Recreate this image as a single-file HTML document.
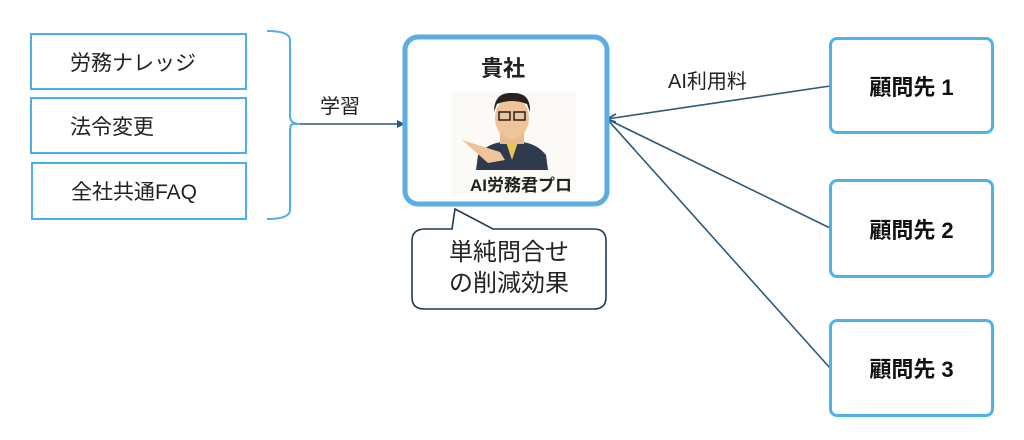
<!DOCTYPE html>
<html><head><meta charset="utf-8"><style>
body{margin:0;width:1024px;height:440px;background:#fff;position:relative;overflow:hidden;font-family:"Liberation Sans","Noto Sans CJK JP",sans-serif;color:#222}
.b{position:absolute;border:2px solid #4eaee8;box-sizing:border-box;font-size:21px;display:flex;align-items:center;padding-left:38px}
.r{position:absolute;border:3.5px solid #4eb1e8;border-radius:8px;box-sizing:border-box;font-size:22px;font-weight:bold;display:flex;align-items:center;justify-content:center;color:#111}
.t{position:absolute;font-size:20px;white-space:nowrap}
</style></head><body>
<div class="b" style="left:30px;top:33px;width:217px;height:57px">労務ナレッジ</div>
<div class="b" style="left:30px;top:97px;width:217px;height:57px">法令変更</div>
<div class="b" style="left:31px;top:162px;width:216px;height:58px">全社共通FAQ</div>
<svg style="position:absolute;left:0;top:0" width="1024" height="440">
<path d="M267 31 Q290 31 290 40 L290 116 Q290 124 300 124 L293 124 Q290 124 290 132 L290 210 Q290 219 267 219" fill="none" stroke="#4eaee8" stroke-width="2"/>
<line x1="300" y1="124" x2="400" y2="124" stroke="#2c5a78" stroke-width="1.6"/>
<path d="M405 124 L397 120 L397 128Z" fill="#2c5a78"/>
<g stroke="#2c5a78" stroke-width="1.6" fill="none">
<line x1="607" y1="119" x2="830" y2="86"/>
<line x1="607" y1="119" x2="830" y2="228"/>
<line x1="607" y1="119" x2="830" y2="368"/>
<path d="M616 114 L607 119 L616 122"/>
</g>
<path d="M425 229 L452 229 L455 209 L493 229 L594 229 Q606 229 606 241 L606 297 Q606 309 594 309 L424 309 Q412 309 412 297 L412 241 Q412 229 425 229Z" fill="#fff" stroke="#1f3b52" stroke-width="1.6"/>
<rect x="405" y="37" width="202" height="167" rx="13" fill="#fff" stroke="#5aaee2" stroke-width="5"/>
<rect x="452" y="92" width="124" height="103" fill="#fbfaf6"/>
<path d="M478 155 Q490 140 512 142 Q534 140 546 155 L548 170 L476 170Z" fill="#2f3a4e"/>
<path d="M506 142 L512 160 L518 142Z" fill="#e8c656"/>
<rect x="500" y="128" width="24" height="16" fill="#e9b98d"/>
<ellipse cx="512" cy="118" rx="17" ry="21" fill="#efc49b"/>
<path d="M494 112 Q494 92 512 93 Q531 92 530 112 L527 104 Q512 98 497 104Z" fill="#2a2220"/>
<rect x="499" y="112" width="11" height="8" fill="none" stroke="#222" stroke-width="1.5"/>
<rect x="514" y="112" width="11" height="8" fill="none" stroke="#222" stroke-width="1.5"/>
<path d="M462 140 L500 152 L505 160 L488 163 Z" fill="#efc49b"/>
</svg>
<div class="t" style="left:320px;top:90px">学習</div>
<div class="t" style="left:481px;top:51px;font-size:22px;font-weight:bold">貴社</div>
<div class="t" style="left:470px;top:171px;font-size:17px;font-weight:bold;color:#222">AI労務君プロ</div>
<div class="t" style="left:424px;top:237px;line-height:31px;text-align:center;width:170px;font-size:24px">単純問合せ<br>の削減効果</div>
<div class="t" style="left:668px;top:65px;font-size:20px">AI利用料</div>
<div class="r" style="left:829px;top:37px;width:165px;height:97px">顧問先 1</div>
<div class="r" style="left:829px;top:179px;width:165px;height:99px">顧問先 2</div>
<div class="r" style="left:829px;top:319px;width:165px;height:98px">顧問先 3</div>
</body></html>
